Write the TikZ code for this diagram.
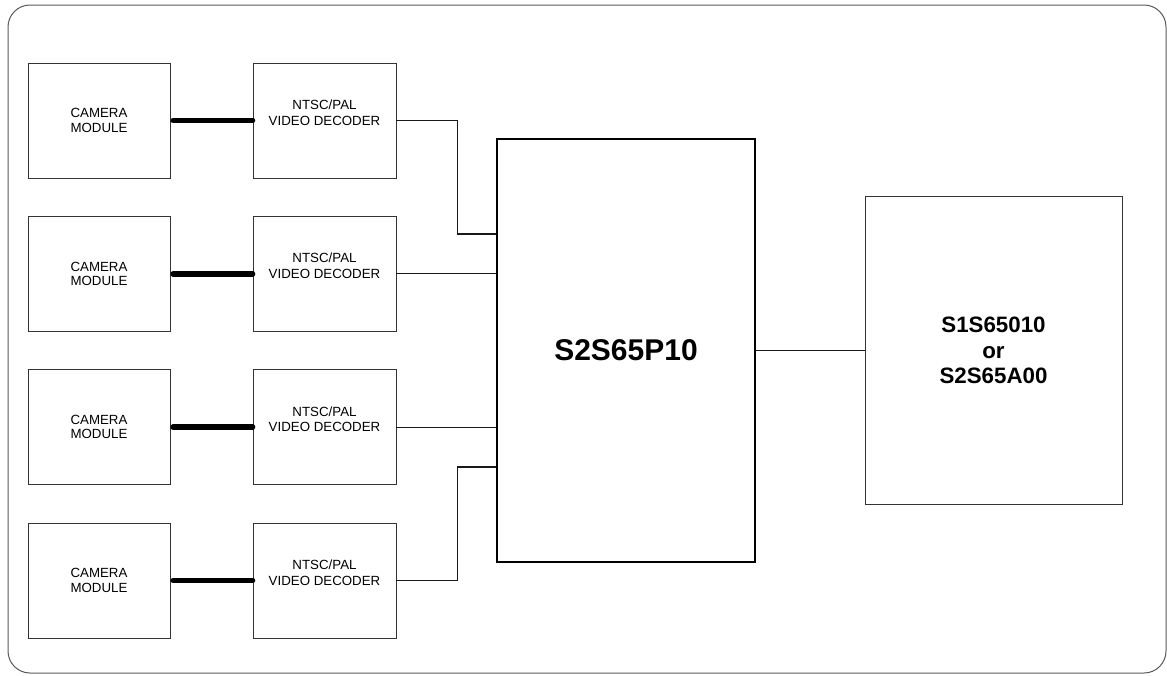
\documentclass[tikz,border=0pt]{standalone}
\usepackage{fontspec}
\setmainfont{Liberation Sans}
\begin{document}
\begin{tikzpicture}[x=1pt,y=-1pt,
  box/.style={draw=black!80,line width=0.9pt,rectangle,inner sep=0pt,align=center,
    font=\fontsize{13.3}{14.5}\selectfont},
  cambox/.style={box,minimum width=142pt,minimum height=115pt},
  decbox/.style={box,minimum width=143pt,minimum height=115pt},
  mainbox/.style={draw=black,line width=2pt,rectangle,inner sep=0pt,
    minimum width=258pt,minimum height=423pt,font=\fontsize{30}{32}\selectfont\bfseries},
  rightbox/.style={box,minimum width=257pt,minimum height=308pt,
    font=\fontsize{22.3}{25.6}\selectfont\bfseries},
  thick link/.style={line width=5.5pt,line cap=round},
  link/.style={line width=1.3pt,black!90}]
\useasboundingbox (0,0) rectangle (1167,675);
\draw[line width=1pt,black!65,rounded corners=22pt] (8,5) rectangle (1166,673);
\foreach \k in {1,2,3,4}{
  \pgfmathsetmacro\cy{120.5+(\k-1)*153.33}
  \node[cambox] (c\k) at (99,\cy) {CAMERA\\MODULE};
  \node[decbox,label={[align=center,font=\fontsize{13.3}{15.5}\selectfont,yshift=8pt]center:NTSC/PAL\\VIDEO DECODER}] (d\k) at (324.5,\cy) {};
  \draw[thick link] ([xshift=2.75pt]c\k.east) -- (d\k.west);
}
\node[mainbox] (main) at (626,350.5) {S2S65P10};
\node[rightbox] (right) at (993.5,350.5) {S1S65010\\or\\S2S65A00};
\draw[link] (d1.east) -- ++(61,0) |- ([yshift=-96pt]main.north west);
\draw[link] (d2.east) -- (main.west |- d2.east);
\draw[link] (d3.east) -- (main.west |- d3.east);
\draw[link] (d4.east) -- ++(61,0) |- ([yshift=96pt]main.south west);
\draw[link] (main.east) -- (right.west);
\end{tikzpicture}
\end{document}
